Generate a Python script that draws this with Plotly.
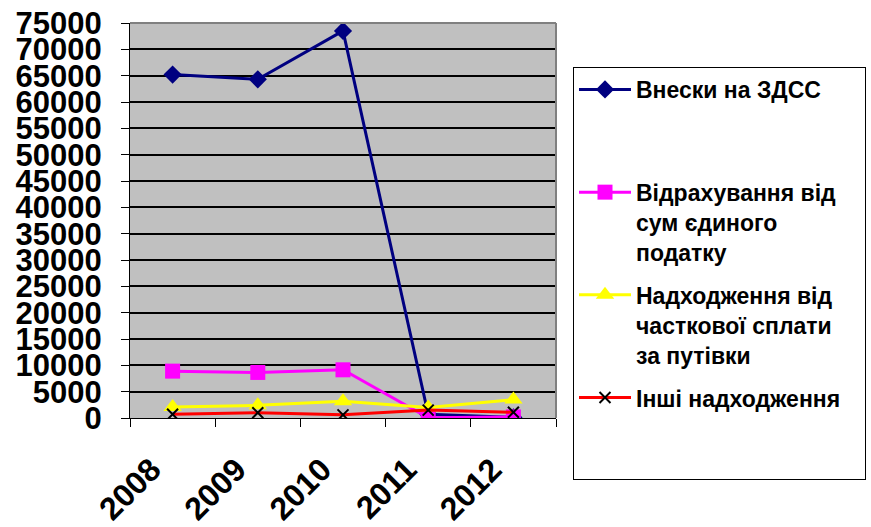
import plotly.graph_objects as go

years = ["2008", "2009", "2010", "2011", "2012"]
vnesky_zdss = [65200, 64300, 73500, 700, 100]
vidrakhuvannia = [8900, 8650, 9150, 50, 200]
nadkhodzhennia_putivky = [2100, 2400, 3200, 2000, 3500]
inshi = [700, 1000, 600, 1500, 1100]

names = [
    "<b>Внески на ЗДСС</b><br> <br> ",
    "<b>Відрахування від</b><br><b>сум єдиного</b><br><b>податку</b>",
    "<b>Надходження від</b><br><b>часткової сплати</b><br><b>за путівки</b>",
    "<b>Інші надходження</b>&nbsp;&nbsp;&nbsp;<br> <br> ",
]

FONT = "Liberation Sans, Arial, sans-serif"

fig = go.Figure()
fig.add_trace(go.Scatter(x=years, y=vnesky_zdss, name=names[0], legendgroup="a",
                         mode="lines+markers",
                         line=dict(color="#000080", width=3),
                         marker=dict(symbol="diamond", size=14, color="#000080")))
fig.add_trace(go.Scatter(x=years, y=vidrakhuvannia, name=names[1], legendgroup="b",
                         mode="lines+markers",
                         line=dict(color="#FF00FF", width=3),
                         marker=dict(symbol="square", size=15, color="#FF00FF")))
fig.add_trace(go.Scatter(x=years, y=nadkhodzhennia_putivky, name=names[2], legendgroup="c",
                         mode="lines+markers",
                         line=dict(color="#FFFF00", width=3),
                         marker=dict(symbol="triangle-up", size=16, color="#FFFF00")))
fig.add_trace(go.Scatter(x=years, y=inshi, name=names[3], legendgroup="d",
                         mode="lines+markers",
                         line=dict(color="#FF0000", width=3),
                         marker=dict(symbol="x-thin", size=11, color="black",
                                     line=dict(color="black", width=2))))

fig.update_layout(
    width=871, height=527,
    margin=dict(l=130, r=315, t=23, b=109, autoexpand=False),
    paper_bgcolor="white",
    plot_bgcolor="#C0C0C0",
    font=dict(family=FONT, color="black"),
    showlegend=True,
    legend=dict(
        xref="container", yref="container",
        x=573 / 871, y=1 - 67 / 527, xanchor="left", yanchor="top",
        bgcolor="white", bordercolor="black", borderwidth=1,
        font=dict(family=FONT, size=23, color="black"),
        valign="top", tracegroupgap=10, itemwidth=52,
        traceorder="grouped",
        maxheight=500,
    ),
    xaxis=dict(
        type="category",
        range=[-0.5, 4.5],
        automargin=False,
        showgrid=False,
        showline=True, linecolor="black", linewidth=1,
        ticks="outside", tickson="boundaries", ticklen=8, tickcolor="black",
        tickangle=-45,
        tickfont=dict(family=FONT, size=32, color="black", weight="bold"),
        ticklabelstandoff=19, ticklabelshift=-21,
        zeroline=False,
    ),
    yaxis=dict(
        range=[0, 75000], dtick=5000, tickformat="d",
        automargin=False,
        showgrid=True, gridcolor="black", gridwidth=1.5,
        showline=True, linecolor="black", linewidth=1,
        ticks="outside", ticklen=8, tickcolor="black",
        tickfont=dict(family=FONT, size=31, color="black", weight="bold"),
        ticklabelstandoff=13,
        zeroline=False,
    ),
    shapes=[
        dict(type="line", xref="paper", yref="paper", x0=0, x1=1, y0=1, y1=1,
             line=dict(color="#808080", width=2)),
        dict(type="line", xref="paper", yref="paper", x0=1, x1=1, y0=0, y1=1,
             line=dict(color="#808080", width=2)),
    ],
)

fig.write_html("out.html", config={"displayModeBar": False},
               post_script="document.body.style.margin='0';")
